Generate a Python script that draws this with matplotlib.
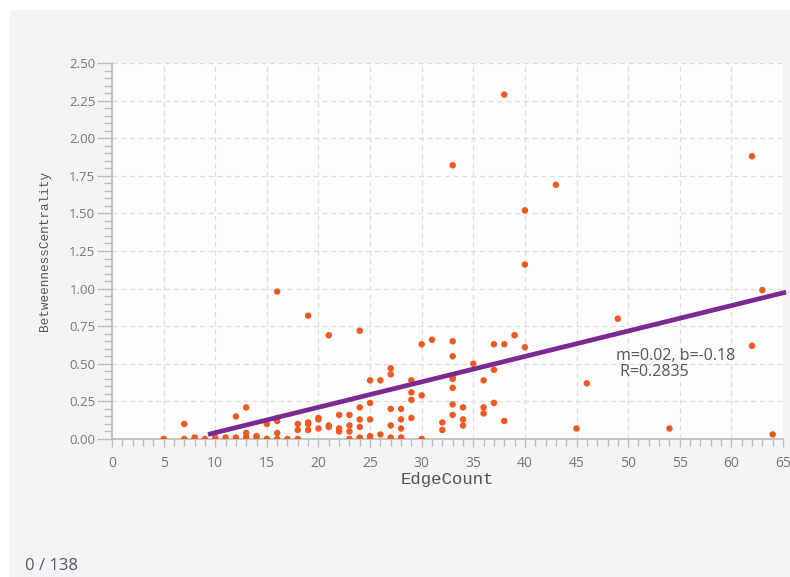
import numpy as np
import matplotlib
matplotlib.use("Agg")
import matplotlib.pyplot as plt
from matplotlib.ticker import MultipleLocator, FormatStrFormatter
from matplotlib.patches import Rectangle

# Data (EdgeCount vs BetweennessCentrality)
edge_count = [5, 7, 7, 8, 8, 9, 10, 10, 11, 12, 12, 13, 13, 13, 14, 14,
              15, 15, 16, 16, 16, 16, 16, 17, 18, 18, 18, 19, 19, 19, 19,
              20, 20, 20, 21, 21, 21, 22, 22, 22, 23, 23, 23, 23,
              24, 24, 24, 24, 24, 24, 25, 25, 25, 25, 25, 26, 26,
              27, 27, 27, 27, 27, 28, 28, 28, 28, 28, 29, 29, 29, 29,
              30, 30, 30, 31, 32, 32, 33, 33, 33, 33, 33, 33, 33, 33,
              34, 34, 34, 35, 36, 36, 36, 37, 37, 37, 38, 38, 38, 39,
              40, 40, 40, 43, 45, 46, 49, 54, 62, 62, 63, 64]
betweenness = [0.00, 0.10, 0.00, 0.01, 0.00, 0.00, 0.01, 0.00, 0.01, 0.15, 0.01,
               0.21, 0.04, 0.01, 0.02, 0.01, 0.10, 0.00, 0.98, 0.14, 0.12, 0.04,
               0.00, 0.00, 0.10, 0.06, 0.00, 0.82, 0.11, 0.10, 0.06,
               0.14, 0.13, 0.07, 0.69, 0.09, 0.08, 0.16, 0.07, 0.05,
               0.16, 0.09, 0.05, 0.00, 0.72, 0.21, 0.13, 0.08, 0.01, 0.00,
               0.39, 0.24, 0.13, 0.02, 0.00, 0.39, 0.03,
               0.47, 0.43, 0.20, 0.09, 0.01, 0.20, 0.13, 0.07, 0.01, 0.00,
               0.39, 0.31, 0.26, 0.14, 0.63, 0.29, 0.00, 0.66, 0.11, 0.06,
               1.82, 0.65, 0.55, 0.41, 0.40, 0.34, 0.23, 0.16,
               0.21, 0.13, 0.09, 0.50, 0.39, 0.21, 0.17, 0.63, 0.46, 0.24,
               2.29, 0.63, 0.12, 0.69, 1.52, 1.16, 0.61, 1.69, 0.07, 0.37,
               0.80, 0.07, 1.88, 0.62, 0.99, 0.03]

# trend line as drawn
fit_slope = 0.0169
fit_intercept = -0.127
fit_x_range = [9.3, 65.3]
fit_label = "m=0.02, b=-0.18\n R=0.2835"
count_label = "0 / 138"

fig = plt.figure(figsize=(7.9, 5.77), dpi=100)
fig.patch.set_facecolor("white")
fig.add_artist(Rectangle((10 / 790, 0), 1, 1 - 10 / 577, transform=fig.transFigure,
                         facecolor="#f3f4f6", edgecolor="none", zorder=-10))

ax = fig.add_axes([112 / 790, 138 / 577, 671 / 790, 376 / 577])
ax.set_facecolor("#fdfdfd")

ax.scatter(edge_count, betweenness, s=22, color="#f05a22", edgecolors="none", zorder=3)

fx = np.array(fit_x_range)
ax.plot(fx, fit_slope * fx + fit_intercept, color="#7b2a93", lw=3.4,
        solid_capstyle="butt", zorder=4, clip_on=False)

ax.text(48.8, 0.50, fit_label, fontsize=11.5, color="#555555", family="Open Sans",
        va="center", ha="left", linespacing=1.0, zorder=5)

ax.set_xlim(0, 65)
ax.set_ylim(0, 2.5)
ax.xaxis.set_major_locator(MultipleLocator(5))
ax.xaxis.set_minor_locator(MultipleLocator(1))
ax.yaxis.set_major_locator(MultipleLocator(0.25))
ax.yaxis.set_minor_locator(MultipleLocator(0.05))
ax.yaxis.set_major_formatter(FormatStrFormatter("%.2f"))

ax.grid(True, which="major", color="#dddddd", linestyle=(0, (4, 3)), lw=0.9, zorder=0)
for s in ["top", "right"]:
    ax.spines[s].set_visible(False)
for s in ["left", "bottom"]:
    ax.spines[s].set_color("#bbbbbb")
    ax.spines[s].set_linewidth(1.2)

ax.tick_params(axis="both", which="both", colors="#bbbbbb", labelcolor="#777777")
ax.tick_params(axis="y", which="major", length=11, width=1, labelsize=9.5, pad=1)
ax.tick_params(axis="y", which="minor", length=6, width=1)
ax.tick_params(axis="x", which="major", length=6, width=1, labelsize=10, pad=6)
ax.tick_params(axis="x", which="minor", length=5, width=1)
for lab in ax.get_xticklabels() + ax.get_yticklabels():
    lab.set_family("Open Sans")

ax.set_xlabel("EdgeCount", family="Liberation Mono", fontsize=12.5, color="#555555", labelpad=1)
ax.set_ylabel("BetweennessCentrality", family="Liberation Mono", fontsize=9.2,
              color="#555555", labelpad=13)

fig.text(25 / 790, 1 - 566 / 577, count_label, family="Open Sans", fontsize=12,
         color="#555566", va="center", ha="left")

fig.savefig("out.png", dpi=100)
